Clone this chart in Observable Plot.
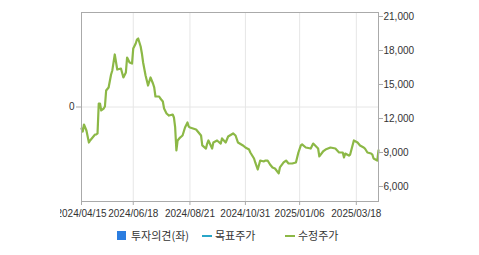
<!DOCTYPE html>
<html><head><meta charset="utf-8">
<script src="https://cdn.jsdelivr.net/npm/d3@7"></script>
<script src="https://cdn.jsdelivr.net/npm/@observablehq/plot@0.6"></script>
<style>
body{margin:0;background:#fff;}
#wrap{position:relative;width:479px;height:255px;overflow:hidden;}
#chart svg{clip-path:inset(0 0 0 60px);}
#legend{position:absolute;left:0;top:0;width:479px;height:255px;pointer-events:none;font-family:"Noto Sans CJK KR",sans-serif;font-size:11px;color:#333;}
.li{position:absolute;top:228px;line-height:15px;white-space:nowrap;}
.sq{position:absolute;width:9px;height:9px;top:231px;}
.ln{position:absolute;width:10px;height:2px;top:235px;}
</style></head><body>
<div id="wrap"><div id="chart"></div><div id="legend"></div></div>
<script>
const dayIdx = [0,1,2,4,6,7,9,11,12,13,14,15,16,18,19,20,22,24,25,27,29,32,34,36,37,39,41,42,44,45,46,47,48,49,50,52,54,56,58,59,60,63,64,66,67,69,71,74,75,76,77,78,80,82,84,86,87,88,93,95,97,98,101,102,103,106,107,110,113,114,117,119,123,125,127,131,133,136,137,140,141,143,145,148,149,151,153,155,157,160,161,164,166,168,171,174,176,178,179,182,186,188,192,193,196,198,202,206,209,212,213,214,217,218,221,224,226,229,230,232,235,236,237,240,241];
const price = [11120,10850,11470,10940,9880,10060,10320,10590,10590,10680,13320,13320,12710,12880,13060,14470,14740,15880,16240,17650,16320,16410,15620,16060,17380,16940,16850,18180,18620,18970,19060,18710,18350,17740,16940,15790,14910,15620,15090,14740,13940,13940,13760,13500,12880,12440,12260,12350,12090,11210,9180,10060,10320,10500,11210,11650,11290,11210,11030,10760,10500,9620,9350,9790,10060,9350,9880,10060,9790,10240,9880,10410,10680,10500,9880,9620,9440,9260,9000,8470,8120,7500,8290,8210,8290,8290,7940,7680,7590,7150,7680,8120,8290,8030,8030,8120,9000,9620,9710,9440,9350,9790,9350,8650,9090,9260,9440,9350,9000,9000,8560,8910,8730,8820,10060,9880,9620,9440,9350,9000,8910,8820,8470,8290,9180];
const tickIdx = [0,42,88,133,177,223];
const tickLabels = ["2024/04/15","2024/06/18","2024/08/21","2024/10/31","2025/01/06","2025/03/18"];
const priceTicks = [6000,9000,12000,15000,18000,21000];
const yDomain = [4676,21353];
const xDomain = [0,241];
const legendLabels = ["투자의견(좌)","목표주가","수정주가"];
const legendColors = ["#2b7de0","#2aa6c8","#8cb846"];

const data = dayIdx.map((d,i)=>({d, p:price[i]}));
const opinionZero = (yDomain[0]+yDomain[1])/2;

const chart = Plot.plot({
  width:479, height:222,
  marginLeft:81, marginRight:101, marginTop:12, marginBottom:21,
  style:{fontFamily:"'Liberation Sans',Arial,sans-serif", fontSize:"10px", color:"#333", background:"#fff", overflow:"visible"},
  x:{domain:xDomain},
  y:{domain:yDomain},
  marks:[
    Plot.ruleX(tickIdx,{stroke:"#e6e6e6"}),
    Plot.ruleY([opinionZero],{stroke:"#e6e6e6"}),
    Plot.line(data,{x:"d",y:"p",stroke:legendColors[2],strokeWidth:2.2}),
    Plot.frame({stroke:"#aaa"}),
    Plot.axisY({anchor:"right", ticks:priceTicks, tickSize:4, tickPadding:1, tickFormat:d3.format(","), stroke:"#aaa", fill:"#333", label:null}),
    Plot.axisY({anchor:"left", ticks:[opinionZero], tickSize:5, tickPadding:2, tickFormat:()=>"0", stroke:"#aaa", fill:"#333", label:null}),
    Plot.axisX({ticks:tickIdx, tickSize:4, tickPadding:4, tickFormat:d=>tickLabels[tickIdx.indexOf(d)], stroke:"#aaa", fill:"#333", label:null})
  ]
});
document.getElementById("chart").appendChild(chart);

const lg = document.getElementById("legend");
const items = [
  {type:"sq", mx:117, tx:131},
  {type:"ln", mx:202, tx:215},
  {type:"ln", mx:285, tx:298}
];
items.forEach((it,i)=>{
  const m = document.createElement("div");
  m.className = it.type;
  m.style.left = it.mx+"px";
  m.style.background = legendColors[i];
  lg.appendChild(m);
  const t = document.createElement("div");
  t.className = "li";
  t.style.left = it.tx+"px";
  t.textContent = legendLabels[i];
  lg.appendChild(t);
});
</script>
</body></html>
